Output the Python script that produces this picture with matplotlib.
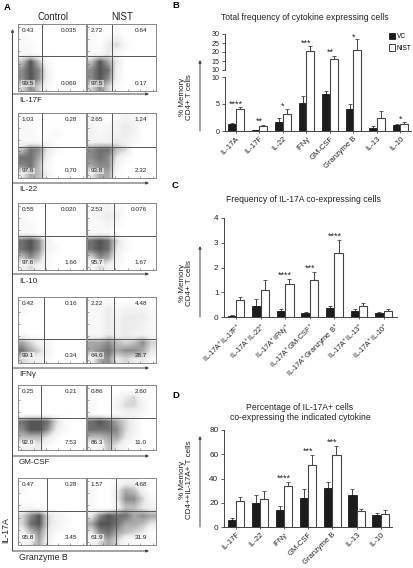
import numpy as np
import matplotlib
matplotlib.use("Agg")
import matplotlib.pyplot as plt
from matplotlib.colors import LinearSegmentedColormap
from matplotlib.patches import Patch

plt.rcParams['font.family'] = ['Liberation Sans', 'DejaVu Sans']
plt.rcParams['mathtext.default'] = 'regular'
plt.rcParams['mathtext.fontset'] = 'custom'
plt.rcParams['mathtext.rm'] = 'Liberation Sans'

W, H = 413, 568
INK = '#444444'

# panel B
b_labels = ['IL-17A', 'IL-17F', 'IL-22', 'IFNγ', 'GM-CSF', 'Granzyme B', 'IL-13', 'IL-10']
b_vc = [1.3, 0.1, 1.6, 5.2, 6.9, 4.0, 0.6, 1.1]
b_vc_err = [0.25, 0.05, 0.8, 1.2, 0.6, 1.0, 0.3, 0.2]
b_nist = [4.0, 1.0, 3.2, 20.7, 16.2, 21.0, 2.5, 1.35]
b_nist_err = [0.4, 0.2, 0.9, 2.8, 1.8, 6.0, 1.2, 0.25]
b_stars = ['****', '**', '*', '***', '**', '*', '', '*']
b_star_y = [5.0, 1.8, 4.6, 24.6, 19.6, 28.0, 0, 2.2]

# panel C
c_labels = ['IL-17A$^{+}$IL-17F$^{+}$', 'IL-17A$^{+}$IL-22$^{+}$', 'IL-17A$^{+}$IFNγ$^{+}$',
            'IL-17A$^{+}$GM-CSF$^{+}$', 'IL-17A$^{+}$Granzyme B$^{+}$', 'IL-17A$^{+}$IL-13$^{+}$',
            'IL-17A$^{+}$IL-10$^{+}$']
c_vc = [0.05, 0.45, 0.25, 0.17, 0.37, 0.25, 0.15]
c_vc_err = [0.02, 0.27, 0.06, 0.02, 0.06, 0.06, 0.04]
c_nist = [0.68, 1.1, 1.35, 1.48, 2.58, 0.45, 0.25]
c_nist_err = [0.12, 0.38, 0.17, 0.33, 0.53, 0.1, 0.07]
c_stars = ['', '', '****', '***', '****', '', '']
c_star_y = [0, 0, 1.67, 1.97, 3.27, 0, 0]

# panel D
d_labels = ['IL-17F', 'IL-22', 'IFNγ', 'GM-CSF', 'Granzyme B', 'IL-13', 'IL-10']
d_vc = [6, 20, 14, 24, 32, 26, 9.5]
d_vc_err = [1.2, 6, 3, 7, 5, 5, 2]
d_nist = [21.5, 23, 34, 51, 59, 13, 10.5]
d_nist_err = [3, 6.5, 3.5, 8.5, 7.5, 2, 3.5]
d_stars = ['', '', '****', '***', '***', '', '']
d_star_y = [0, 0, 40, 62.5, 70, 0, 0]

# flow plots, rough density, 0-9, top row first
il17f_ctrl = ['10000000', '10000000', '11000000', '11000000', '59510000', '79720000', '79720000', '47410000']
il17f_nist = ['10000000', '10120000', '10341000', '11310000', '59630000', '79820000', '79720000', '47410000']
il22_ctrl = ['10000000', '11000000', '11001000', '11110000', '58731000', '88620000', '78510000', '36520000']
il22_nist = ['11012100', '21123200', '21223200', '22232100', '78854000', '78731000', '67720000', '36610000']
il10_ctrl = ['11000000', '10000000', '11000000', '11000000', '89720000', '89721000', '57510000', '24210000']
il10_nist = ['11210000', '12320000', '11210000', '11100000', '89841000', '89831000', '47620000', '14210000']
ifng_ctrl = ['10000000', '10000000', '00000000', '00000000', '10000000', '64210000', '86420000', '43210000']
ifng_nist = ['00100000', '11312221', '11323331', '11323321', '11323221', '66754574', '67867763', '26734331']
gmcsf_ctrl = ['10000000', '00000000', '00000000', '00000000', '89984100', '79973100', '55531000', '22310000']
gmcsf_nist = ['10000000', '10013410', '10024420', '10012210', '89864200', '88874200', '55663100', '12531000']
gzmb_ctrl = ['00000000', '10000000', '00000000', '11000000', '47942100', '48942100', '25731000', '13620000']
gzmb_nist = ['00012200', '10036520', '10037741', '10025532', '37988676', '69986653', '37865430', '14641100']

flow_rows = [
    ('IL-17F', il17f_ctrl, il17f_nist, ['0.43', '0.035', '99.5', '0.069'], ['2.72', '0.64', '97.5', '0.17']),
    ('IL-22', il22_ctrl, il22_nist, ['1.03', '0.28', '97.6', '0.70'], ['2.65', '1.24', '93.8', '2.32']),
    ('IL-10', il10_ctrl, il10_nist, ['0.55', '0.020', '97.8', '1.66'], ['2.53', '0.076', '95.7', '1.67']),
    ('IFNγ', ifng_ctrl, ifng_nist, ['0.42', '0.16', '99.1', '0.34'], ['2.22', '4.48', '64.6', '28.7']),
    ('GM-CSF', gmcsf_ctrl, gmcsf_nist, ['0.25', '0.21', '92.0', '7.53'], ['0.86', '2.60', '86.3', '11.0']),
    ('Granzyme B', gzmb_ctrl, gzmb_nist, ['0.47', '0.28', '95.8', '3.45'], ['1.57', '4.68', '61.9', '31.9']),
]
# pixel layout of the rows: top, bottom, horizontal gate, ctrl gate, nist gate, arrow y, label y
flow_top = [24, 113, 203, 297, 385, 478]
flow_bot = [91, 178, 270, 363, 450, 545]
gate_y = [56, 147, 236, 339, 418, 511]
gate_x_ctrl = [42, 42, 45, 44, 41, 47]
gate_x_nist = [112, 112, 114, 114, 111, 116]
arrow_y = [94, 183, 274, 368, 456, 551]
label_y = [101, 189, 281, 374, 463, 558]

fig = plt.figure(figsize=(W / 100, H / 100), dpi=100)
flow_cmap = LinearSegmentedColormap.from_list('flow', ['#ffffff', '#ececec', '#a8a8a8', '#555555'])


def px_axes(x0, y0, x1, y1):
    return fig.add_axes([x0 / W, 1 - y1 / H, (x1 - x0) / W, (y1 - y0) / H])


def ftext(x, y, s, **kw):
    kw.setdefault('fontsize', 6.2)
    kw.setdefault('color', '#222222')
    kw.setdefault('va', 'center')
    return fig.text(x / W, 1 - y / H, s, **kw)


def arrow(x0, y0, x1, y1):
    fig.add_artist(matplotlib.patches.FancyArrowPatch(
        (x0 / W, 1 - y0 / H), (x1 / W, 1 - y1 / H), transform=fig.transFigure,
        arrowstyle='-|>', mutation_scale=4, lw=0.7, color=INK, shrinkA=0, shrinkB=0))


def flow_panel(x0, x1, y0, y1, gx, gy, grid, nums):
    ax = px_axes(x0, y0, x1, y1)
    dens = np.array([[int(c) for c in row] for row in grid], dtype=float)
    ax.imshow(dens, cmap=flow_cmap, vmin=0, vmax=9, extent=(0, 1, 0, 1), aspect='auto',
              interpolation='bilinear')
    ax.axvline((gx - x0) / (x1 - x0), color='#555555', lw=0.7)
    ax.axhline(1 - (gy - y0) / (y1 - y0), color='#555555', lw=0.7)
    for s in ax.spines.values():
        s.set_color('#888888')
        s.set_linewidth(0.7)
    ax.set_xticks(np.arange(0.05, 1, 0.18))
    ax.set_yticks(np.arange(0.05, 1, 0.18))
    ax.set_xticklabels([])
    ax.set_yticklabels([])
    ax.tick_params(direction='in', length=1.2, width=0.4, color='#555555')
    kw = dict(transform=ax.transAxes, fontsize=4.6, color='#222222', va='center')
    ax.text(0.05, 0.90, nums[0], ha='left', **kw)
    ax.text(0.87, 0.90, nums[1], ha='right', **kw)
    ax.text(0.05, 0.11, nums[2], ha='left', bbox=dict(fc='white', ec='none', alpha=0.55, pad=0.6), **kw)
    ax.text(0.87, 0.11, nums[3], ha='right', **kw)


def bars(ax, vc, vc_err, nist, nist_err, floor=None):
    # floor set: upper part of a broken axis, only bars that reach it are drawn
    w = 0.34
    for vals, errs, side, col, edge, lw in [(vc, vc_err, -1, '#1c1c1c', '#1c1c1c', 0.6),
                                            (nist, nist_err, 1, 'white', INK, 0.8)]:
        vals = np.array(vals, dtype=float)
        errs = np.array(errs, dtype=float)
        x = np.arange(len(vals)) + side * w / 2
        keep = np.ones(len(vals), dtype=bool) if floor is None else vals > 10
        bottom = 0 if floor is None else floor - 2
        ax.bar(x[keep], vals[keep] - bottom, w, bottom=bottom, color=col, edgecolor=edge, lw=lw, zorder=3)
        ax.errorbar(x[keep], vals[keep], yerr=[np.zeros(keep.sum()), errs[keep]], fmt='none', ecolor=INK,
                    elinewidth=0.7, capsize=1.5, capthick=0.6, zorder=2)


def style(ax, size=5.9):
    ax.spines['top'].set_visible(False)
    ax.spines['right'].set_visible(False)
    ax.spines['left'].set_color(INK)
    ax.spines['bottom'].set_color(INK)
    ax.spines['left'].set_linewidth(0.7)
    ax.spines['bottom'].set_linewidth(0.7)
    ax.patch.set_alpha(0)
    ax.tick_params(length=2.5, width=0.6, color=INK, labelsize=size, labelcolor='#222222', pad=1.5)
    ax.tick_params(axis='x', length=1.5)


def stars(ax, marks, ys, first, last):
    for i, (m, y) in enumerate(zip(marks, ys)):
        if m and first <= i <= last:
            ax.text(i, y, m, ha='center', va='center', fontsize=6.5, color='#222222')


def xlabels(ax, labels, size=5.5):
    ax.set_xticks(np.arange(len(labels)))
    ax.set_xticklabels(labels, rotation=45, ha='right', rotation_mode='anchor', fontsize=size)


# panel A
ftext(53, 17, 'Control', ha='center', fontsize=6.9)
ftext(122, 17, 'NIST', ha='center', fontsize=6.9)
for i, (name, g1, g2, n1, n2) in enumerate(flow_rows):
    flow_panel(18, 86, flow_top[i], flow_bot[i], gate_x_ctrl[i], gate_y[i], g1, n1)
    flow_panel(87, 156, flow_top[i], flow_bot[i], gate_x_nist[i], gate_y[i], g2, n2)
    arrow(13, arrow_y[i], 149, arrow_y[i])
    ftext(19, label_y[i], name, fontsize=6.3 if name == 'Granzyme B' else 5.8)
arrow(12.5, 551, 12.5, 29)
ftext(6, 530, 'IL-17A', rotation=90, ha='center', fontsize=6.3)

# panel letters
for s, x, y in [('A', 4, 7), ('B', 172, 6), ('C', 172, 186), ('D', 172, 396)]:
    ftext(x, y, s, fontweight='bold', fontsize=6.8, color='black', ha='left')

# panel B, broken axis
up = px_axes(225, 34, 411, 77)
low = px_axes(225, 77, 411, 131)
up_min = 10 - 7 / 1.8
bars(low, b_vc, b_vc_err, b_nist, b_nist_err)
bars(up, b_vc, b_vc_err, b_nist, b_nist_err, floor=up_min)
for ax in (up, low):
    style(ax, 5.1)
    ax.set_xlim(-0.468, 7.447)
low.set_ylim(0, 10)
low.set_yticks([0, 5, 10])
up.set_ylim(up_min, 30)
up.set_yticks([10, 15, 20, 25, 30])
up.spines['left'].set_bounds(10, 30)
up.spines['bottom'].set_visible(False)
up.set_xticks([])
xlabels(low, b_labels)
stars(low, b_stars, b_star_y, 0, 2)
stars(low, b_stars, b_star_y, 7, 7)
stars(up, b_stars, b_star_y, 3, 5)
ftext(305, 18, 'Total frequency of cytokine expressing cells', ha='center')
fig.legend(handles=[Patch(facecolor='#1c1c1c', edgecolor='#1c1c1c', lw=0.6, label='VC'),
                    Patch(facecolor='white', edgecolor=INK, lw=0.7, label='NIST')],
           loc='upper left', bbox_to_anchor=(389 / W, 1 - 33 / H), frameon=False, fontsize=4.7,
           handlelength=0.9, handleheight=1.1, handletextpad=0.3, labelspacing=0.6,
           borderpad=0, borderaxespad=0)
ftext(186, 97, '% Memory\nCD4+ T cells', rotation=90, ha='center', ma='center', linespacing=1.1, fontsize=5.8)
arrow(200, 131, 200, 60)

# panel C
c = px_axes(224, 218, 397, 317)
bars(c, c_vc, c_vc_err, c_nist, c_nist_err)
style(c)
c.set_xlim(-0.488, 6.545)
c.set_ylim(0, 4)
c.set_yticks([0, 1, 2, 3, 4])
xlabels(c, c_labels, 5.3)
stars(c, c_stars, c_star_y, 0, 6)
ftext(303, 200, 'Frequency of IL-17A co-expressing cells', ha='center')
ftext(186, 283, '% Memory\nCD4+ T cells', rotation=90, ha='center', ma='center', linespacing=1.1, fontsize=5.8)
arrow(200, 317, 200, 246)

# panel D
d = px_axes(224, 430, 392, 527)
bars(d, d_vc, d_vc_err, d_nist, d_nist_err)
style(d)
d.set_xlim(-0.498, 6.473)
d.set_ylim(0, 80)
d.set_yticks([0, 20, 40, 60, 80])
xlabels(d, d_labels)
stars(d, d_stars, d_star_y, 0, 6)
ftext(300, 412.5, 'Percentage of IL-17A+ cells\nco-expressing the indicated cytokine', ha='center', ma='center', linespacing=1.05)
ftext(186, 480, '% Memory\nCD4++IL-17A+ T cells', rotation=90, ha='center', ma='center', linespacing=1.1, fontsize=5.8)
arrow(200, 527, 200, 436)

fig.savefig('out.png', dpi=100)
